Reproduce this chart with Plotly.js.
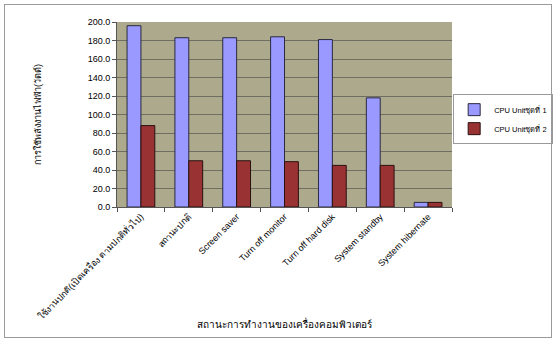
<!DOCTYPE html>
<html><head><meta charset="utf-8">
<script src="https://cdn.plot.ly/plotly-3.0.1.min.js"></script>
<style>
html,body{margin:0;padding:0;background:#fff;}
#wrap{position:relative;width:556px;height:342px;}
#chart{width:556px;height:342px;}
#frame{position:absolute;left:4px;top:4px;width:546px;height:332px;border:1px solid #9a9a9a;pointer-events:none;}
</style></head>
<body>
<div id="wrap"><div id="chart"></div><div id="frame"></div></div>
<script>
const categories = [
  "ใช้งานปกติ(เปิดเครื่อง ตามปกติทั่วไป)",
  "สถานะปกติ",
  "Screen saver",
  "Turn off monitor",
  "Turn off hard disk",
  "System standby",
  "System hibernate"
];
const unit1 = [196, 183, 183, 184, 181, 118, 5];
const unit2 = [88, 50, 50, 49, 45, 45, 5];
const seriesNames = ["CPU Unitชุดที่ 1", "CPU Unitชุดที่ 2"];
const yTitle = "การใช้พลังงานไฟฟ้า(วัตต์)";
const xTitle = "สถานะการทำงานของเครื่องคอมพิวเตอร์";

const font = "Liberation Sans, Arial, sans-serif";
const data = [
  {type:"bar", x:categories, y:unit1, name:seriesNames[0],
   marker:{color:"#9999FF", line:{color:"#2a2a40", width:1}}},
  {type:"bar", x:categories, y:unit2, name:seriesNames[1],
   marker:{color:"#993333", line:{color:"#2a1010", width:1}}}
];
const layout = {
  width:556, height:342,
  margin:{l:117, r:104, t:22, b:135, autoexpand:false},
  paper_bgcolor:"#ffffff",
  plot_bgcolor:"#ADA98C",
  font:{family:font, size:9, color:"#000"},
  barmode:"group", bargap:0.42, bargroupgap:0,
  showlegend:true,
  legend:{x:1.302, y:0.61, xanchor:"right", yanchor:"top",
    bordercolor:"#9a9a9a", borderwidth:1, bgcolor:"#fff",
    itemwidth:30, font:{family:font, size:7.5}, tracegroupgap:0},
  xaxis:{type:"category", tickangle:-45, ticks:"outside", ticklen:4,
    tickson:"boundaries", tickcolor:"#555", showline:true, linecolor:"#555",
    automargin:false, tickfont:{family:font, size:9},
    title:{text:xTitle, font:{family:font, size:10}, standoff:0}},
  yaxis:{range:[0,200], dtick:20, tickformat:".1f", ticks:"outside", ticklen:4,
    tickcolor:"#555", showline:true, linecolor:"#555", gridcolor:"#6e6e62",
    gridwidth:1, zeroline:false, automargin:false, tickfont:{family:font, size:9},
    title:{text:yTitle, font:{family:font, size:9}, standoff:44}}
};
Plotly.newPlot("chart", data, layout, {staticPlot:true, displayModeBar:false});
</script>
</body></html>
